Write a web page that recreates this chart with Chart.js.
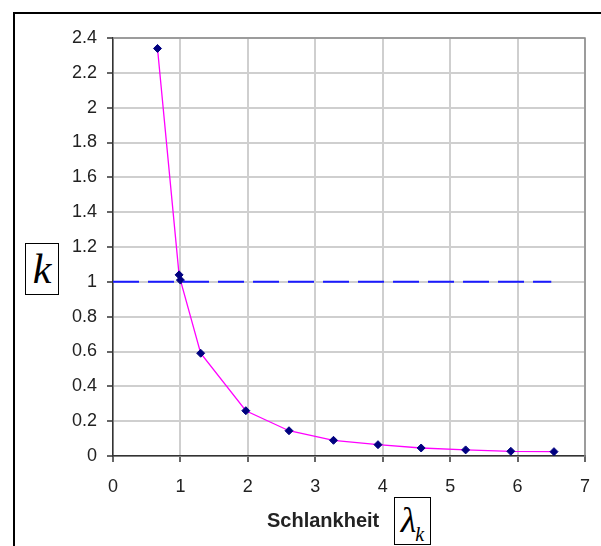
<!DOCTYPE html>
<html>
<head>
<meta charset="utf-8">
<script src="https://cdn.jsdelivr.net/npm/chart.js@4/dist/chart.umd.min.js"></script>
<style>
  html, body { margin: 0; padding: 0; background: #fff; overflow: hidden; }
  #wrap { position: relative; width: 601px; height: 546px; overflow: hidden; }
  #frame {
    position: absolute; left: 13px; top: 12px; width: 700px; height: 700px;
    border-top: 2px solid #000; border-left: 2px solid #000;
  }
  canvas { position: absolute; left: 0; top: 0; }
  .box {
    position: absolute; border: 1.5px solid #000; background: #fff;
    font-family: "Liberation Serif", "Times New Roman", serif; font-style: italic;
    color: #000; box-sizing: border-box; text-align: center;
  }
  #ylabel { left: 25px; top: 243px; width: 34px; height: 52px; font-size: 42px; line-height: 50px; }
  #lambdaBox { left: 394px; top: 497px; width: 37px; height: 48px; font-size: 36px; line-height: 44px; }
  #lambdaBox sub { font-size: 20px; vertical-align: -9px; margin-left: -1px; }
  #xlabel {
    position: absolute; left: 267px; top: 509px;
    font: bold 20px "Liberation Sans", Arial, sans-serif; color: #222;
  }
</style>
</head>
<body>
<div id="wrap">
  <div id="frame"></div>
  <canvas id="chart" width="601" height="546"></canvas>
  <div id="ylabel" class="box">k</div>
  <div id="xlabel">Schlankheit</div>
  <div id="lambdaBox" class="box">&lambda;<sub>k</sub></div>
</div>
<script>
// Knickbeiwert k über der Schlankheit
const lambdaValues = [0.66, 0.98, 1.0, 1.3, 1.97, 2.61, 3.27, 3.93, 4.57, 5.23, 5.9, 6.54];
const kValues = [2.34, 1.04, 1.01, 0.59, 0.26, 0.145, 0.09, 0.065, 0.046, 0.035, 0.027, 0.025];

// Bezugslinie k = 1
const refX = [0, 6.5];
const refY = [1, 1];

const xMin = 0, xMax = 7, xStep = 1;
const yMin = 0, yMax = 2.4, yStep = 0.2;

const toPoints = (xs, ys) => xs.map((x, i) => ({ x: x, y: ys[i] }));

// top and right edge of the plot area in gray
const plotFrame = {
  id: "plotFrame",
  beforeDatasetsDraw(chart) {
    const a = chart.chartArea;
    const ctx = chart.ctx;
    ctx.save();
    ctx.strokeStyle = "#8c8c8c";
    ctx.lineWidth = 1.5;
    ctx.beginPath();
    ctx.moveTo(a.left, a.top);
    ctx.lineTo(a.right, a.top);
    ctx.lineTo(a.right, a.bottom);
    ctx.stroke();
    ctx.restore();
  },
};

const tickFont = { family: "'Liberation Sans', Arial, sans-serif", size: 18 };

new Chart(document.getElementById("chart"), {
  type: "scatter",
  data: {
    datasets: [
      {
        label: "k = 1",
        data: toPoints(refX, refY),
        showLine: true,
        borderColor: "#1a1aff",
        borderWidth: 2,
        borderDash: [26, 9],
        pointRadius: 0,
      },
      {
        label: "k",
        data: toPoints(lambdaValues, kValues),
        showLine: true,
        borderColor: "#ff00ff",
        borderWidth: 1.3,
        pointStyle: "rectRot",
        pointRadius: 4,
        pointBackgroundColor: "#000080",
        pointBorderColor: "#000080",
        pointBorderWidth: 1,
      },
    ],
  },
  options: {
    responsive: false,
    animation: false,
    layout: { autoPadding: false, padding: { left: 0, top: 38, right: 16, bottom: 0 } },
    plugins: { legend: { display: false }, tooltip: { enabled: false } },
    scales: {
      x: {
        type: "linear",
        min: xMin,
        max: xMax,
        afterFit: (s) => { s.height = 90; s.paddingLeft = 0; s.paddingRight = 0; },
        ticks: { stepSize: xStep, color: "#222", font: tickFont, padding: 14, maxRotation: 0 },
        grid: { color: "#cfcfcf", lineWidth: 2, tickColor: "#333", tickLength: 6, tickWidth: 1.5 },
        border: { color: "#333", width: 1.5 },
      },
      y: {
        type: "linear",
        min: yMin,
        max: yMax,
        afterFit: (s) => { s.width = 113; s.paddingTop = 0; s.paddingBottom = 0; },
        ticks: {
          stepSize: yStep,
          color: "#222",
          font: tickFont,
          padding: 10,
          callback: (v) => String(+v.toFixed(1)),
        },
        grid: { color: "#cfcfcf", lineWidth: 2, tickColor: "#333", tickLength: 6, tickWidth: 1.5 },
        border: { color: "#333", width: 1.5 },
      },
    },
  },
  plugins: [plotFrame],
});
</script>
</body>
</html>
